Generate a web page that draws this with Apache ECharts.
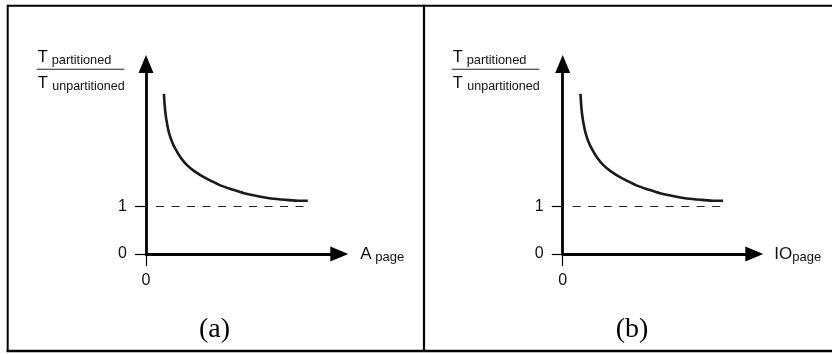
<!DOCTYPE html>
<html><head><meta charset="utf-8">
<script src="https://cdn.jsdelivr.net/npm/echarts@6/dist/echarts.min.js"></script>
<style>html,body{margin:0;padding:0;background:#fff}#c{width:832px;height:354px}</style>
</head><body><div id="c"></div>
<script>
// Curve T_partitioned / T_unpartitioned (same shape in both panels)
const curveX = [0.93, 0.96, 1.01, 1.09, 1.19, 1.35, 1.55, 1.81, 2.12, 2.48, 2.90, 3.36, 3.88, 4.45, 5.07, 5.74, 6.47, 7.24, 7.97, 8.37];
const curveY = [3.37, 3.16, 2.95, 2.74, 2.55, 2.36, 2.19, 2.02, 1.87, 1.75, 1.64, 1.54, 1.44, 1.36, 1.28, 1.22, 1.17, 1.14, 1.12, 1.12];
// Reference line at ratio 1
const dashX = [0.52, 8.43];
const dashY = [1, 1];
const yTickValues = [0, 1];
const xTickValues = [0];
const xNameMain = ['A', 'IO'];
const xNameSub = [' page', 'page'];
const yNameTop = ['T', 'partitioned'];
const yNameBottom = ['T', 'unpartitioned'];
const captions = ['(a)', '(b)'];

const SANS = '"Liberation Sans", Arial, sans-serif';
const SERIF = '"Liberation Serif", "DejaVu Serif", serif';
const INK = '#111';

const grids = [
  {left: 146, top: 64, width: 193.3, height: 190},
  {left: 562.7, top: 64, width: 191.6, height: 190}
];

function pts(xs, ys) { return xs.map((x, i) => [x, ys[i]]); }

const xAxes = grids.map((g, i) => ({
  type: 'value', gridIndex: i, min: 0, max: 10,
  name: '{m|' + xNameMain[i] + '}{s|' + xNameSub[i] + '}',
  nameLocation: 'end', nameGap: i === 0 ? 21 : 20,
  nameTextStyle: {
    align: 'left', verticalAlign: 'middle',
    rich: {
      m: {fontFamily: SANS, fontSize: 17, color: INK},
      s: {fontFamily: SANS, fontSize: 13, color: INK, padding: [7, 0, 0, 0]}
    }
  },
  axisLine: {onZero: false, lineStyle: {color: '#000', width: 2.8}, symbol: ['none', 'triangle'], symbolSize: [15, 18]},
  axisTick: {show: true, customValues: xTickValues, length: 12, lineStyle: {color: '#000', width: 1.2}},
  axisLabel: {customValues: xTickValues, margin: 19, fontFamily: SANS, fontSize: 16, color: INK},
  splitLine: {show: false}
}));

const yAxes = grids.map((g, i) => ({
  type: 'value', gridIndex: i, min: 0, max: 4,
  axisLine: {onZero: false, lineStyle: {color: '#000', width: 2.8}, symbol: ['none', 'triangle'], symbolSize: [15, 18]},
  axisTick: {show: true, customValues: yTickValues, length: 11, lineStyle: {color: '#000', width: 1.2}},
  axisLabel: {customValues: yTickValues, margin: 19, fontFamily: SANS, fontSize: 16, color: INK},
  splitLine: {show: false}
}));

const series = [];
grids.forEach((g, i) => {
  series.push({
    type: 'line', xAxisIndex: i, yAxisIndex: i, data: pts(curveX, curveY),
    smooth: 0.3, symbol: 'none', lineStyle: {color: '#1a1a1a', width: 2.6}, z: 3
  });
  series.push({
    type: 'line', xAxisIndex: i, yAxisIndex: i, data: pts(dashX, dashY),
    symbol: 'none', lineStyle: {color: '#222', width: 1, type: [8, 7.5]}, z: 2
  });
});

const graphic = [
  {type: 'line', shape: {x1: 7.7, y1: 5.8, x2: 832, y2: 5.8}, style: {stroke: '#000', lineWidth: 2}},
  {type: 'line', shape: {x1: 7.7, y1: 4.8, x2: 7.7, y2: 352}, style: {stroke: '#000', lineWidth: 2}},
  {type: 'line', shape: {x1: 424, y1: 4.8, x2: 424, y2: 352}, style: {stroke: '#000', lineWidth: 2.2}},
  {type: 'line', shape: {x1: 6.7, y1: 351, x2: 832, y2: 351}, style: {stroke: '#000', lineWidth: 2.4}}
];
const fracOffsets = [0, 415];
fracOffsets.forEach((dx, i) => {
  graphic.push(
    {type: 'text', x: 37.8 + dx, y: 57.2, style: {text: yNameTop[0], font: '16.5px ' + SANS, fill: INK, verticalAlign: 'middle'}},
    {type: 'text', x: 51.7 + dx, y: 60.5, style: {text: yNameTop[1], font: '12.8px ' + SANS, fill: INK, verticalAlign: 'middle'}},
    {type: 'line', shape: {x1: 36.7 + dx, y1: 69.3, x2: 124.3 + dx, y2: 69.3}, style: {stroke: '#222', lineWidth: 1.1}},
    {type: 'text', x: 37.8 + dx, y: 83.5, style: {text: yNameBottom[0], font: '16.5px ' + SANS, fill: INK, verticalAlign: 'middle'}},
    {type: 'text', x: 52.3 + dx, y: 86.5, style: {text: yNameBottom[1], font: '12.5px ' + SANS, fill: INK, verticalAlign: 'middle'}}
  );
});
const capX = [214.5, 632];
captions.forEach((c, i) => {
  graphic.push({type: 'text', x: capX[i], y: 330, style: {text: c, font: '28px ' + SERIF, fill: '#000', align: 'center', verticalAlign: 'middle'}});
});

const chart = echarts.init(document.getElementById('c'), null, {renderer: 'canvas'});
chart.setOption({
  animation: false,
  backgroundColor: '#fff',
  grid: grids,
  xAxis: xAxes,
  yAxis: yAxes,
  series: series,
  graphic: graphic
});
</script>
</body></html>
